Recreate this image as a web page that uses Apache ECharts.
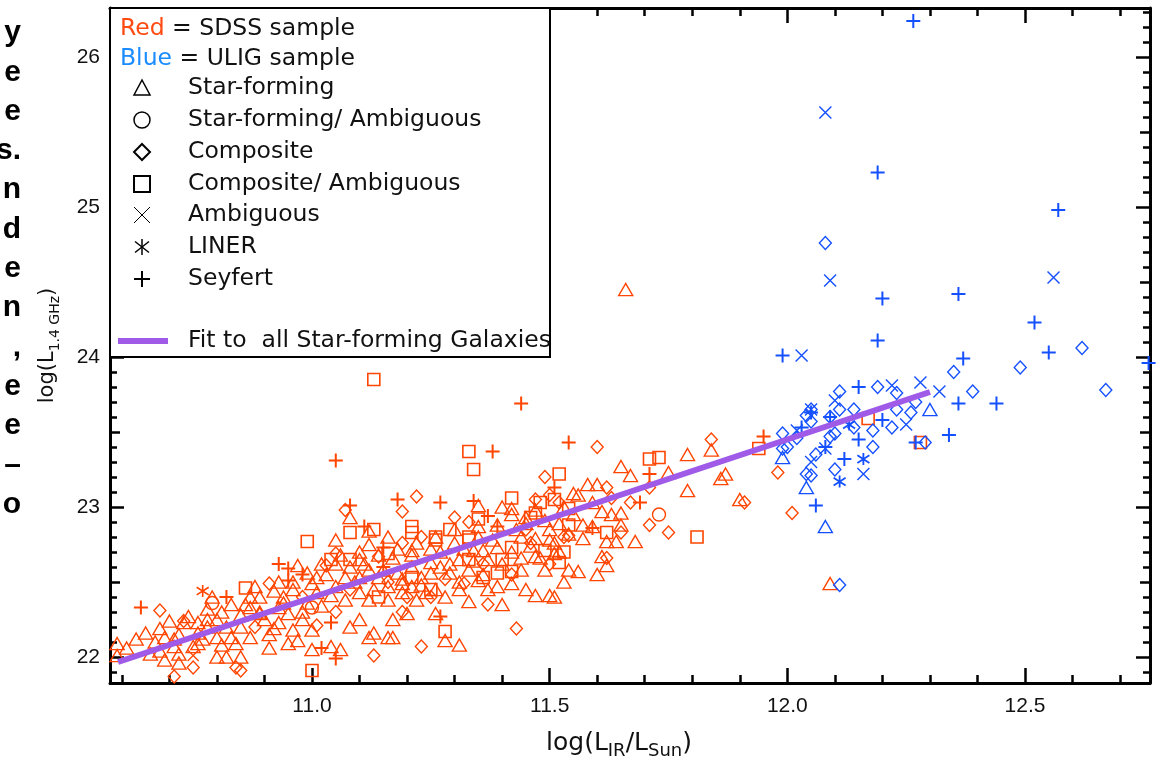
<!DOCTYPE html>
<html>
<head>
<meta charset="utf-8">
<script src="https://cdn.jsdelivr.net/npm/echarts@6/dist/echarts.min.js"></script>
<style>
  html, body { margin: 0; padding: 0; background: #fff; }
  #chart { width: 1160px; height: 762px; }
</style>
</head>
<body>
<div id="chart"></div>
<script>
// SDSS sample (red), [log L_IR, log L_1.4GHz]
const sdssStarForming = [
  [10.59,22.09],[10.59,22.01],[10.68,22.19],[10.69,22.13],[10.71,22.12],[10.71,22.07],[10.68,22.04],[10.72,22.02],
  [10.72,21.96],[10.73,22.23],[10.76,22.23],[10.75,22.07],[10.76,22.09],[10.78,22.25],[10.78,22.20],[10.79,22.40],
  [10.80,22.25],[10.80,22.13],[10.81,22.08],[10.80,22.00],[10.82,22.00],[10.83,22.13],[10.84,22.09],[10.85,22.00],
  [10.85,22.20],[10.87,22.13],[10.87,22.33],[10.89,22.40],[10.89,22.29],[10.90,22.25],[10.92,22.19],[10.91,22.06],
  [10.91,22.15],[10.93,22.50],[10.97,22.61],[10.94,22.40],[10.96,22.45],[10.93,22.33],[10.95,22.29],[10.93,22.23],
  [10.96,22.18],[10.97,22.11],[10.95,22.09],[11.00,22.05],[10.98,22.25],[10.99,22.36],[11.01,22.43],[11.00,22.49],
  [11.04,22.07],[11.01,22.53],[11.05,22.78],
  [11.35,23.01],[11.40,23.00],[11.42,22.99],[11.08,22.93],[11.12,22.84],[11.35,22.87],[11.45,22.93],[11.43,22.85],
  [11.45,22.89],[11.49,22.91],[11.50,22.85],[11.52,22.89],[11.21,22.71],[11.25,22.72],[11.34,22.71],[11.36,22.71],
  [11.39,22.73],[11.37,22.65],[11.47,22.79],[11.51,22.76],[11.47,22.67],[11.49,22.58],[11.33,22.58],[11.31,22.65],
  [11.29,22.56],[11.27,22.60],[11.25,22.63],[11.23,22.53],[11.21,22.60],[11.19,22.49],[11.18,22.56],[11.16,22.47],
  [11.14,22.53],[11.12,22.58],[11.10,22.53],[11.10,22.65],[11.08,22.60],[11.07,22.53],[11.05,22.47],[11.07,22.38],
  [11.10,22.43],[11.12,22.38],[11.16,22.38],[11.19,22.43],[11.21,22.47],[11.22,22.38],[11.24,22.43],[11.26,22.45],
  [11.28,22.40],[11.31,22.45],[11.35,22.51],[11.37,22.45],[11.39,22.47],[11.42,22.49],[11.47,22.41],[11.50,22.41],
  [11.20,22.29],[11.17,22.25],[11.26,22.29],[11.13,22.16],[11.16,22.13],[11.08,22.20],[11.10,22.25],[11.12,22.13],
  [11.17,22.13],[11.31,22.08],[11.28,22.11],[11.06,22.05],[11.42,22.95],
  [11.55,23.09],[11.56,23.08],[11.58,23.15],[11.60,23.15],[11.63,22.95],[11.61,22.97],[11.65,22.96],[11.59,23.03],
  [11.57,22.88],[11.59,22.87],[11.65,22.88],[11.64,22.77],[11.62,22.77],[11.68,22.77],[11.57,22.79],[11.51,22.69],
  [11.61,22.67],[11.62,22.61],[11.54,22.58],[11.56,22.57],[11.60,22.55],[11.51,22.40],[11.65,23.27],[11.67,23.21],
  [11.75,23.23],[11.79,23.35],[11.84,23.38],[11.87,23.22],[11.86,23.19],[11.79,23.11],[11.90,23.05],[12.09,22.49],
  [11.66,24.45],
  [11.03,22.55],[11.05,22.62],[11.09,22.50],[11.11,22.62],[11.13,22.45],[11.15,22.58],[11.17,22.66],[11.19,22.52],
  [11.21,22.68],[11.23,22.48],[11.25,22.56],[11.27,22.70],[11.29,22.62],[11.31,22.50],[11.32,22.72],[11.34,22.64],
  [11.36,22.55],[11.38,22.78],[11.40,22.62],[11.42,22.70],[11.44,22.58],[11.46,22.74],[11.48,22.66],[11.50,22.78],
  [11.52,22.70],[11.54,22.82],[11.55,22.95],[11.53,23.00],[11.47,22.98],[11.44,22.80],[11.39,22.88],[11.35,22.80],
  [11.30,22.76],[11.26,22.80],[11.22,22.76],[11.18,22.72],[11.14,22.68],[11.10,22.70],[11.06,22.68],[11.02,22.62],
  [10.99,22.56],[10.96,22.50],[10.94,22.36],[10.92,22.44],[10.89,22.30],[10.87,22.40],[10.85,22.28],[10.83,22.35],
  [10.81,22.30],[10.78,22.32],[10.76,22.16],[10.74,22.27],[10.72,22.15],[10.70,22.24],[10.67,22.10],[10.65,22.16],
  [10.63,22.12],[10.61,22.06],[10.66,22.02],[10.69,21.98],
  [10.98,22.30],[11.02,22.34],[11.04,22.41],[11.00,22.18],[10.86,22.35],[10.88,22.47],[10.82,22.20],[10.77,22.12],
  [11.45,22.45],[11.40,22.35],[11.33,22.37],[11.44,22.66],[11.53,22.50],[11.30,22.85],[11.16,22.80],[11.12,22.75]
];
const sdssSfAmbiguous = [[10.79,22.36],[11.73,22.95],[11.00,22.33]];
const sdssComposite = [
  [10.68,22.31],[10.71,21.87],[10.75,21.93],[10.73,22.24],[10.84,21.93],[10.85,21.91],[10.91,22.49],[11.01,22.21],
  [11.03,22.61],[11.07,22.98],[11.19,22.97],[11.22,23.07],[11.30,22.93],[11.49,23.20],[11.50,23.08],[11.47,23.05],
  [11.05,22.69],[11.14,22.67],[11.19,22.76],[11.23,22.80],[11.46,22.76],[11.32,22.49],[11.37,22.35],[11.19,22.30],
  [11.43,22.19],[11.13,22.01],[11.23,22.07],[11.60,23.40],[11.71,23.13],[11.67,23.03],[11.84,23.45],[11.98,23.23],
  [11.91,23.03],[11.71,22.88],[11.75,22.83],[12.01,22.96],[11.62,23.13],[11.63,23.06],[11.54,22.81],[11.53,22.80],
  [11.65,22.83],[11.62,22.66],[11.52,23.03],
  [11.16,22.50],[11.28,22.52],[11.36,22.62],[11.08,22.45],[10.98,22.40],[11.42,22.55],[11.25,22.40],[11.50,22.62],
  [10.88,22.20],[11.20,22.40],[11.45,22.85],[11.33,22.90],[11.05,22.30]
];
const sdssCompAmbiguous = [
  [11.13,23.85],[11.33,23.37],[11.34,23.25],[11.52,23.22],[11.42,23.06],[11.35,22.92],[11.08,22.83],[11.13,22.85],
  [11.21,22.87],[11.21,22.83],[11.26,22.80],[11.29,22.85],[11.33,22.80],[11.46,22.93],[11.48,23.03],[11.16,22.69],
  [11.26,22.78],[11.33,22.78],[11.33,22.65],[11.42,22.73],[11.49,22.71],[11.40,22.65],[11.42,22.57],[11.39,22.56],
  [11.36,22.53],[11.21,22.53],[11.14,22.40],[11.25,22.45],[11.04,22.65],[11.08,22.65],[10.99,22.77],[10.86,22.46],
  [11.00,21.91],[11.28,22.17],[11.71,23.32],[11.73,23.33],[11.94,23.39],[11.81,22.80],[11.54,22.99],[11.54,22.88],
  [11.62,22.83],[11.53,22.70],[11.52,22.63],[12.17,23.59],[12.28,23.43],[11.47,22.96],[11.51,23.05]
];
const sdssAmbiguous = [[10.75,22.01]];
const sdssLiner = [[10.77,22.44]];
const sdssSeyfert = [
  [10.64,22.33],[10.82,22.40],[10.93,22.62],[10.95,22.59],[10.98,22.55],[10.95,22.51],[11.04,22.23],[11.02,22.06],
  [11.05,21.99],[11.05,23.31],[11.44,23.69],[11.38,23.37],[11.54,23.43],[11.08,23.01],[11.18,23.05],[11.27,23.03],
  [11.34,23.04],[11.37,22.94],[11.39,22.87],[11.51,23.13],[11.11,22.87],[11.15,22.73],[11.15,22.60],[11.27,22.27],
  [11.59,22.86],[11.71,23.22],[11.69,23.03],[11.95,23.47]
];

// ULIG sample (blue)
const uligStarForming = [[12.30,23.65],[11.99,23.33],[12.04,23.13],[12.08,22.87]];
const uligComposite = [
  [12.08,24.76],[12.62,24.06],[12.67,23.78],[12.49,23.93],[12.35,23.90],[12.39,23.77],[12.19,23.80],[12.23,23.76],
  [12.11,23.77],[12.14,23.65],[12.23,23.65],[12.27,23.70],[12.26,23.63],[12.22,23.53],[12.18,23.51],[12.18,23.40],
  [12.14,23.53],[12.11,23.65],[12.09,23.60],[12.05,23.65],[12.04,23.61],[12.05,23.57],[11.99,23.49],[12.00,23.40],
  [11.99,23.39],[12.02,23.46],[12.06,23.35],[12.10,23.49],[12.09,23.47],[12.10,23.25],[12.04,23.22],[12.05,23.21],
  [12.29,23.43],[12.11,22.48]
];
const uligAmbiguous = [
  [12.08,25.63],[12.09,24.51],[12.56,24.53],[12.03,24.01],[12.32,23.77],[12.28,23.83],[12.22,23.81],[12.10,23.71],
  [12.25,23.55],[12.02,23.51],[12.05,23.30],[12.16,23.22],[12.08,23.39],[12.05,23.65]
];
const uligLiner = [[12.13,23.55],[12.16,23.32],[12.11,23.17]];
const uligSeyfert = [
  [12.265,26.24],[12.19,25.23],[12.57,24.98],[12.20,24.39],[12.36,24.42],[12.52,24.23],[12.19,24.11],[11.99,24.01],
  [12.55,24.03],[12.76,23.96],[12.37,23.99],[12.36,23.69],[12.34,23.48],[12.27,23.43],[12.44,23.69],[12.15,23.80],
  [12.20,23.58],[12.09,23.60],[12.05,23.63],[12.03,23.53],[12.15,23.45],[12.12,23.32],[12.08,23.40],[12.06,23.01]
];

// fit to all star-forming galaxies
const fitLine = [[10.592,21.967],[12.300,23.767]];

// axes
const xMajor = [11.0, 11.5, 12.0, 12.5];
const xMinor = [10.6,10.7,10.8,10.9,11.1,11.2,11.3,11.4,11.6,11.7,11.8,11.9,12.1,12.2,12.3,12.4,12.6,12.7];
const yMajor = [22, 23, 24, 25, 26];
const yHalf = [22.5, 23.5, 24.5, 25.5];
const yMinor = [21.9,22.1,22.2,22.3,22.4,22.6,22.7,22.8,22.9,23.1,23.2,23.3,23.4,23.6,23.7,23.8,23.9,
  24.1,24.2,24.3,24.4,24.6,24.7,24.8,24.9,25.1,25.2,25.3,25.4,25.6,25.7,25.8,25.9,26.1,26.2,26.3];

// legend rows and cut-off caption letters at the left margin
const legendRows = ['Star-forming', 'Star-forming/ Ambiguous', 'Composite', 'Composite/ Ambiguous', 'Ambiguous', 'LINER', 'Seyfert'];
const marginLetters = ['y', 'e', 'e', 's.', 'n', 'd', 'e', 'n', ',', 'e', 'e', '\u2013', 'o'];

const FONT = 'DejaVu Sans';
const TICK_FONT = 'Liberation Sans';
const RED = '#ff4500', BLUE = '#1450ff', PURPLE = '#9f5ae8';
const X_MIN = 10.575, X_MAX = 12.763, Y_MIN = 21.827, Y_MAX = 26.327;

const PLUS = 'path://M0,5L10,5M5,0L5,10';
const CROSS = 'path://M0,0L10,10M10,0L0,10';
const STAR = 'path://M5,0L5,10M0.8,1.8L9.2,8.2M9.2,1.8L0.8,8.2';

function scatter(name, data, symbol, size, color, width) {
  return {
    name, type: 'scatter', data, symbol, symbolSize: size,
    xAxisIndex: 0, yAxisIndex: 0,
    itemStyle: { color: 'transparent', borderColor: color, borderWidth: width, opacity: 1 },
    emphasis: { disabled: true },
    animation: false
  };
}

function makeAxis(dim, position, ticks, len, showLine, showLabel) {
  const isX = dim === 'x';
  const ax = {
    type: 'value', position,
    min: isX ? X_MIN : Y_MIN, max: isX ? X_MAX : Y_MAX,
    axisLine: { show: showLine, onZero: false, lineStyle: { color: '#000', width: 3 } },
    axisTick: { show: true, inside: true, length: len, customValues: ticks, lineStyle: { color: '#000', width: 2.5 } },
    axisLabel: { show: false },
    splitLine: { show: false },
    minorTick: { show: false },
    silent: true
  };
  if (showLabel) {
    ax.axisLabel = {
      show: true, customValues: ticks, fontSize: 21, fontFamily: TICK_FONT, color: '#111',
      margin: isX ? 13 : 10,
      formatter: v => isX ? v.toFixed(1) : String(Math.round(v))
    };
  }
  return ax;
}

const nameRich = (size, sub) => ({
  a: { fontSize: size, fontFamily: FONT, color: '#111', lineHeight: size + 8 },
  s: { fontSize: sub, fontFamily: FONT, color: '#111', lineHeight: sub, verticalAlign: 'bottom' }
});

const xAxes = [
  Object.assign(makeAxis('x', 'bottom', xMajor, 15, true, true), {
    name: '{a|log(L}{s|IR}{a|/L}{s|Sun}{a|)}', nameLocation: 'middle', nameGap: 44,
    nameTextStyle: { rich: nameRich(25, 18), padding: [0, 22, 0, 0] }
  }),
  makeAxis('x', 'bottom', xMinor, 8, false, false),
  makeAxis('x', 'top', xMajor, 15, true, false),
  makeAxis('x', 'top', xMinor, 8, false, false)
];
const yAxes = [
  Object.assign(makeAxis('y', 'left', yMajor, 14, true, true), {
    name: '{a|log(L}{s|1.4 GHz}{a|)}', nameLocation: 'middle', nameGap: 48,
    nameTextStyle: { rich: nameRich(21, 14) }
  }),
  makeAxis('y', 'left', yHalf, 10, false, false),
  makeAxis('y', 'left', yMinor, 7, false, false),
  makeAxis('y', 'right', yMajor, 14, true, false),
  makeAxis('y', 'right', yHalf, 10, false, false),
  makeAxis('y', 'right', yMinor, 7, false, false)
];

// legend box drawn as graphic
const LEG_FONT = '23.5px "' + FONT + '"';
const symX = 142, textX = 188;
const rowY = [88, 120, 152, 184, 215, 247, 279];
const stroke = { fill: 'none', stroke: '#000', lineWidth: 1.5 };
const s = 8;
function seg(x1, y1, x2, y2, w) {
  return { type: 'line', shape: { x1, y1, x2, y2 }, style: { stroke: '#000', lineWidth: w || 1.5 } };
}
const legendSymbols = [
  { type: 'polygon', shape: { points: [[symX - s, rowY[0] + 7], [symX + s, rowY[0] + 7], [symX, rowY[0] - 8]] }, style: stroke },
  { type: 'circle', shape: { cx: symX, cy: rowY[1], r: 8 }, style: stroke },
  { type: 'polygon', shape: { points: [[symX, rowY[2] - s], [symX + s, rowY[2]], [symX, rowY[2] + s], [symX - s, rowY[2]]] }, style: Object.assign({}, stroke, { lineWidth: 2 }) },
  { type: 'rect', shape: { x: symX - s, y: rowY[3] - s, width: 2 * s, height: 2 * s }, style: Object.assign({}, stroke, { lineWidth: 2 }) },
  seg(symX - s, rowY[4] - s, symX + s, rowY[4] + s, 1),
  seg(symX + s, rowY[4] - s, symX - s, rowY[4] + s, 1),
  seg(symX, rowY[5] - s, symX, rowY[5] + s),
  seg(symX - 7, rowY[5] - 5.5, symX + 7, rowY[5] + 5.5),
  seg(symX + 7, rowY[5] - 5.5, symX - 7, rowY[5] + 5.5),
  seg(symX - s, rowY[6], symX + s, rowY[6], 2),
  seg(symX, rowY[6] - s, symX, rowY[6] + s, 2)
];

function txt(x, y, text, extra) {
  return {
    type: 'text', x, y, z: 101,
    style: Object.assign({
      text, font: LEG_FONT, fill: '#111',
      align: 'left', verticalAlign: 'middle', textAlign: 'left', textVerticalAlign: 'middle'
    }, extra || {})
  };
}

const graphics = [
  { type: 'rect', z: 100, shape: { x: 110, y: 8, width: 440, height: 349 }, style: { fill: '#fff', stroke: '#000', lineWidth: 2 } },
  txt(120, 29, '{r|Red} = SDSS sample', { rich: { r: { fill: '#ff4a12', font: LEG_FONT } } }),
  txt(120, 59, '{b|Blue} = ULIG sample', { rich: { b: { fill: '#1a8cff', font: LEG_FONT } } }),
  ...legendRows.map((label, i) => txt(textX, rowY[i], label)),
  ...legendSymbols.map(el => Object.assign({ z: 101 }, el)),
  { type: 'line', z: 101, shape: { x1: 118, y1: 341, x2: 168, y2: 341 }, style: { stroke: PURPLE, lineWidth: 6 } },
  txt(textX, 341, 'Fit to  all Star-forming Galaxies'),
  ...marginLetters.map((ch, i) => ({
    type: 'text', x: 21, y: 33 + i * 39.3, z: 101,
    style: {
      text: ch, font: 'bold 30px "Liberation Sans"', fill: '#000',
      align: 'right', verticalAlign: 'middle', textAlign: 'right', textVerticalAlign: 'middle'
    }
  }))
];

const chart = echarts.init(document.getElementById('chart'), null, { renderer: 'canvas' });
chart.setOption({
  backgroundColor: '#fff',
  animation: false,
  textStyle: { fontFamily: FONT },
  grid: { left: 110, right: 10, top: 8, bottom: 79, containLabel: false, outerBoundsMode: 'none' },
  xAxis: xAxes,
  yAxis: yAxes,
  series: [
    scatter('SDSS Star-forming', sdssStarForming, 'triangle', [14, 12], RED, 1.4),
    scatter('SDSS Star-forming/ Ambiguous', sdssSfAmbiguous, 'circle', 13, RED, 1.4),
    scatter('SDSS Composite', sdssComposite, 'diamond', [12, 13], RED, 1.4),
    scatter('SDSS Composite/ Ambiguous', sdssCompAmbiguous, 'rect', 12, RED, 1.6),
    scatter('SDSS Ambiguous', sdssAmbiguous, CROSS, 11, RED, 1.3),
    scatter('SDSS LINER', sdssLiner, STAR, 12, RED, 1.6),
    scatter('SDSS Seyfert', sdssSeyfert, PLUS, 14, RED, 2),
    scatter('ULIG Star-forming', uligStarForming, 'triangle', [14, 12], BLUE, 1.4),
    scatter('ULIG Composite', uligComposite, 'diamond', [12, 13], BLUE, 1.4),
    scatter('ULIG Ambiguous', uligAmbiguous, CROSS, 12, BLUE, 1.4),
    scatter('ULIG LINER', uligLiner, STAR, 12, BLUE, 1.8),
    scatter('ULIG Seyfert', uligSeyfert, PLUS, 14, BLUE, 2),
    {
      name: 'Fit to all Star-forming Galaxies', type: 'line', data: fitLine,
      xAxisIndex: 0, yAxisIndex: 0, symbol: 'none', z: 5, silent: true,
      lineStyle: { color: PURPLE, width: 6 }, animation: false
    }
  ],
  graphic: graphics
});
</script>
</body>
</html>
